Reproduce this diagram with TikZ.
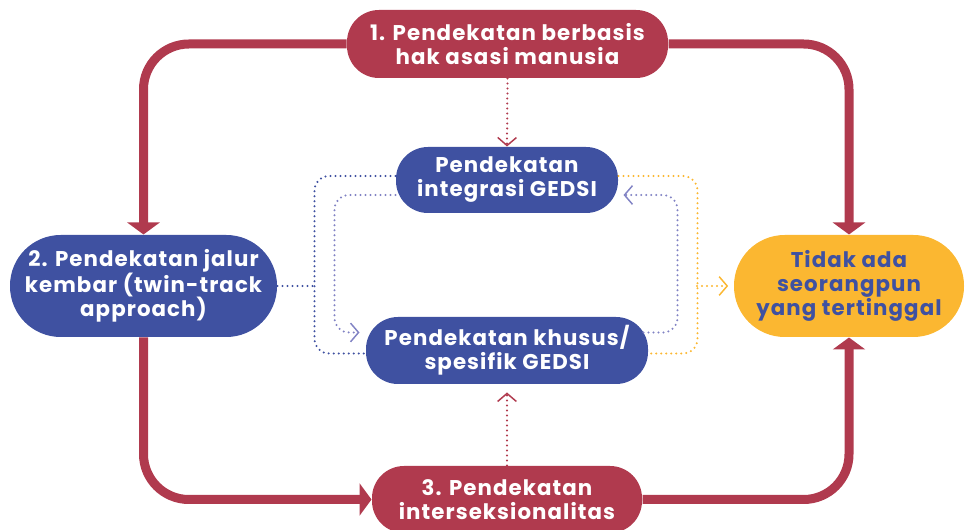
\documentclass[tikz,border=0pt]{standalone}
\usepackage{fontspec}
\setmainfont{Poppins}[LetterSpace=5.0]
\usetikzlibrary{arrows.meta,calc}
\definecolor{hakred}{HTML}{B03A4E}
\definecolor{gblue}{HTML}{3F51A1}
\definecolor{gyellow}{HTML}{FBB731}
\definecolor{glav}{HTML}{8183C4}
\tikzset{every picture/.style={line width=0.75pt}}
\tikzset{
  pill/.style={inner sep=0pt, align=center, text=white, font=\bfseries\fontsize{16}{18}\selectfont},
  mainflow/.style={draw=hakred, line width=6.75pt, rounded corners=34pt, -{Triangle[width=24pt,length=9pt]}},
  dotline/.style={line width=1.7pt, line cap=round, dash pattern=on 0pt off 3.75pt, rounded corners=11pt},
  dotflow/.style={dotline, -{Straight Barb[length=6pt,width=14pt,line width=1.1pt]}}
}

\begin{document}
\begin{tikzpicture}[x=0.75pt,y=0.75pt,yscale=-1,xscale=1]
\useasboundingbox (0,0) rectangle (965,530);

% Main nodes
\node [pill, fill=hakred, minimum width=240.75pt, minimum height=51pt, rounded corners=24pt] (hak) at (507.5,44) {1. Pendekatan berbasis\\hak asasi manusia};
\node [pill, fill=gblue, minimum width=200.25pt, minimum height=76.5pt, rounded corners=38pt] (jalur) at (143.5,286) {2. Pendekatan jalur\\kembar (twin-track\\approach)};
\node [pill, fill=hakred, minimum width=202.5pt, minimum height=50.25pt, rounded corners=24pt] (inter) at (507,499.5) {3. Pendekatan\\interseksionalitas};
\node [pill, fill=gyellow, text=gblue, minimum width=172.5pt, minimum height=76.5pt, rounded corners=38pt] (tidak) at (849,286) {Tidak ada\\seorangpun\\yang tertinggal};

% GEDSI nodes
\node [pill, fill=gblue, minimum width=166.5pt, minimum height=49.5pt, rounded corners=24pt] (integrasi) at (507,180) {Pendekatan\\integrasi GEDSI};
\node [pill, fill=gblue, minimum width=211.5pt, minimum height=50.25pt, rounded corners=24pt] (khusus) at (507,350.5) {Pendekatan khusus/\\spesifik GEDSI};

% Thick connectors
\draw [mainflow] (hak.west) -| (jalur.north);
\draw [mainflow] (hak.east) -| (tidak.north);
\draw [mainflow] (jalur.south) |- (inter.west);
\draw [mainflow] (inter.east) -| (tidak.south);

% Dotted red connectors
\draw [dotflow, draw=hakred] (hak.south) -- (integrasi.north);
\draw [dotflow, draw=hakred, shorten >=6pt] (inter.north) -- (khusus.south);

% Twin-track dotted bracket
\coordinate (twin) at (315,286);
\draw [dotline, draw=gblue] ($(integrasi.west)+(0,-4)$) -- ++(-81,0) |- ($(khusus.west)+(0,3)$);
\draw [dotline, draw=gblue] (jalur.east) -- (twin);

% Lavender loop between GEDSI nodes
\draw [dotflow, draw=glav] ($(integrasi.west)+(0,15)$) -- ++(-61,0) |- ($(khusus.west)+(-6,-18)$);
\draw [dotflow, draw=glav] ($(khusus.east)+(-5,-18)$) -- ++(34,0) |- ($(integrasi.east)+(5,15)$);

% Yellow bracket to result
\coordinate (goal) at (697,286);
\draw [dotline, draw=gyellow] ($(integrasi.east)+(0,-4)$) -- ++(79,0) |- ($(khusus.east)+(0,3)$);
\draw [dotflow, draw=gyellow, shorten >=4pt] (goal) -- (tidak.west);

\end{tikzpicture}
\end{document}
